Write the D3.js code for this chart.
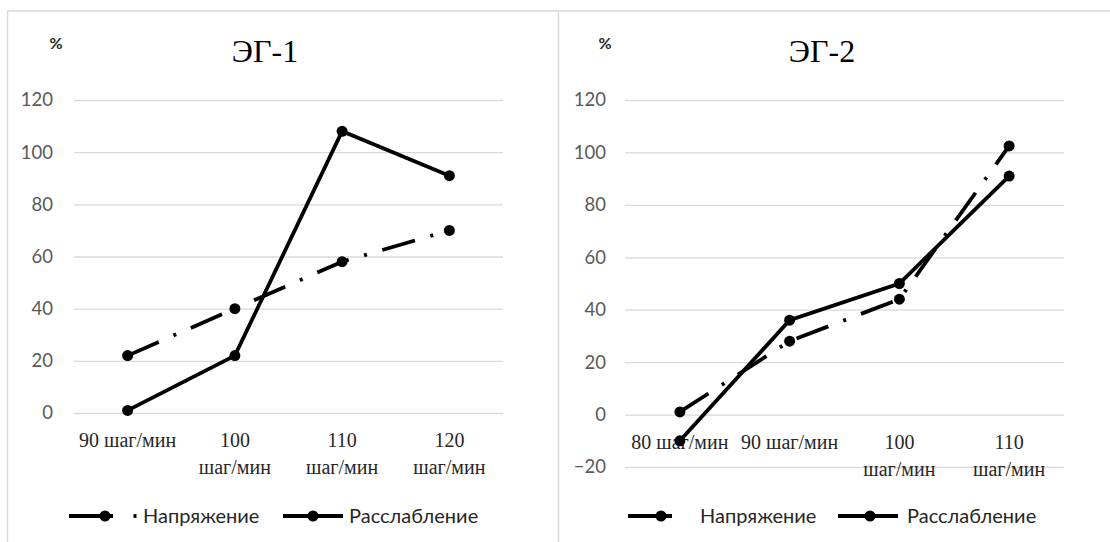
<!DOCTYPE html>
<meta charset="utf-8">
<script src="https://d3js.org/d3.v7.min.js"></script>
<style>
  body { margin: 0; background: #fff; }
</style>
<div id="my_dataviz"></div>
<script>

// data
var titles = ["ЭГ-1", "ЭГ-2"];
var seriesNames = ["Напряжение", "Расслабление"];

var categories1 = ["90 шаг/мин", "100\nшаг/мин", "110\nшаг/мин", "120\nшаг/мин"];
var tension1 = [22, 40, 58, 70];
var relax1 = [1, 22, 108, 91];
var yTicks1 = [0, 20, 40, 60, 80, 100, 120];

var categories2 = ["80 шаг/мин", "90 шаг/мин", "100\nшаг/мин", "110\nшаг/мин"];
var tension2 = [1, 28, 44, 102.5];
var relax2 = [-10, 36, 50, 91];
var yTicks2 = [-20, 0, 20, 40, 60, 80, 100, 120];

var W = 1110, H = 542;
var svg = d3.select("#my_dataviz")
  .append("svg")
    .attr("width", W)
    .attr("height", H);

// frame lines
var frameColor = "#d9d9d9";
svg.append("line").attr("x1", 7).attr("x2", W).attr("y1", 11).attr("y2", 11)
  .attr("stroke", frameColor).attr("stroke-width", 1.5);
svg.append("line").attr("x1", 7.5).attr("x2", 7.5).attr("y1", 11).attr("y2", H)
  .attr("stroke", frameColor).attr("stroke-width", 1.5);
svg.append("line").attr("x1", 558.5).attr("x2", 558.5).attr("y1", 11).attr("y2", H)
  .attr("stroke", frameColor).attr("stroke-width", 1.5);

var dashPattern = "34,16,3,16";

function drawPanel(p) {
  var g = svg.append("g");

  var x = d3.scaleBand()
    .domain(p.categories)
    .range([p.left, p.right]);

  var y = d3.scaleLinear()
    .domain([p.yTicks[0], p.yTicks[p.yTicks.length - 1]])
    .range([p.bottom, 100]);

  // gridlines + tick labels
  var yAxis = g.append("g")
    .attr("transform", "translate(" + p.left + ",0)")
    .call(d3.axisLeft(y).tickValues(p.yTicks).tickSize(-(p.right - p.left)).tickPadding(p.tickPad));
  yAxis.select(".domain").remove();
  yAxis.selectAll(".tick line").attr("stroke", "#d9d9d9").attr("stroke-width", 1.3);
  yAxis.selectAll(".tick text")
    .style("font-family", "Lato, 'Open Sans', sans-serif")
    .style("font-size", "18.5px")
    .attr("fill", "#595959");

  // category labels
  var xl = g.append("g");
  p.categories.forEach(function(c) {
    var lines = c.split("\n");
    var t = xl.append("text")
      .attr("x", x(c) + x.bandwidth() / 2)
      .attr("y", y(0) + 34)
      .attr("text-anchor", "middle")
      .style("font-family", "'Liberation Serif', 'Times New Roman', serif")
      .style("font-size", "20px")
      .attr("fill", "#262626");
    lines.forEach(function(l, i) {
      t.append("tspan")
        .attr("x", x(c) + x.bandwidth() / 2)
        .attr("dy", i == 0 ? 0 : 27)
        .text(l);
    });
  });

  var line = d3.line()
    .x(function(d, i) { return x(p.categories[i]) + x.bandwidth() / 2; })
    .y(function(d) { return y(d); });

  var series = [
    { values: p.tension, dash: dashPattern },
    { values: p.relax, dash: null }
  ];

  series.forEach(function(s) {
    g.append("path")
      .datum(s.values)
      .attr("d", line)
      .attr("fill", "none")
      .attr("stroke", "#000")
      .attr("stroke-width", 3.8)
      .attr("stroke-dasharray", s.dash);
    g.selectAll(null)
      .data(s.values)
      .enter()
      .append("circle")
        .attr("cx", function(d, i) { return x(p.categories[i]) + x.bandwidth() / 2; })
        .attr("cy", function(d) { return y(d); })
        .attr("r", 5.5)
        .attr("fill", "#000");
  });

  // title and % label
  g.append("text")
    .attr("x", p.titleX).attr("y", 62)
    .attr("text-anchor", "middle")
    .style("font-family", "'Liberation Serif', 'Times New Roman', serif")
    .style("font-size", "32px")
    .attr("fill", "#000")
    .text(p.title);
  g.append("text")
    .attr("x", p.pctX).attr("y", 49)
    .attr("text-anchor", "middle")
    .style("font-family", "Lato, sans-serif")
    .style("font-size", "16px")
    .style("font-weight", "bold")
    .attr("fill", "#262626")
    .text("%");

  // legend
  var ly = 516;
  var leg = g.append("g");
  leg.append("line")
    .attr("x1", p.leg1[0]).attr("x2", p.leg1[1]).attr("y1", ly).attr("y2", ly)
    .attr("stroke", "#000").attr("stroke-width", 3.8);
  leg.append("circle").attr("cx", p.leg1[2]).attr("cy", ly).attr("r", 5.5).attr("fill", "#000");
  if (p.leg1dot) {
    leg.append("rect").attr("x", p.leg1dot - 1.5).attr("y", ly - 1.9).attr("width", 3).attr("height", 3.8).attr("fill", "#000");
  }
  leg.append("text")
    .attr("x", p.leg1[3]).attr("y", ly + 7)
    .style("font-family", "Lato, 'Open Sans', sans-serif")
    .style("font-size", "20px")
    .attr("fill", "#262626")
    .text(seriesNames[0]);

  leg.append("line")
    .attr("x1", p.leg2[0]).attr("x2", p.leg2[1]).attr("y1", ly).attr("y2", ly)
    .attr("stroke", "#000").attr("stroke-width", 3.8);
  leg.append("circle").attr("cx", p.leg2[2]).attr("cy", ly).attr("r", 5.5).attr("fill", "#000");
  leg.append("text")
    .attr("x", p.leg2[3]).attr("y", ly + 7)
    .style("font-family", "Lato, 'Open Sans', sans-serif")
    .style("font-size", "20px")
    .attr("fill", "#262626")
    .text(seriesNames[1]);
}

drawPanel({
  title: titles[0], categories: categories1, tension: tension1, relax: relax1, yTicks: yTicks1,
  left: 74, right: 503, bottom: 413, tickPad: 21, titleX: 265, pctX: 56,
  leg1: [69, 113, 105, 143], leg1dot: 135, leg2: [283, 343, 313, 349]
});

drawPanel({
  title: titles[1], categories: categories2, tension: tension2, relax: relax2, yTicks: yTicks2,
  left: 625, right: 1064, bottom: 467, tickPad: 19, titleX: 822, pctX: 605,
  leg1: [628, 672, 661, 700], leg1dot: null, leg2: [838, 898, 870, 907]
});

</script>
